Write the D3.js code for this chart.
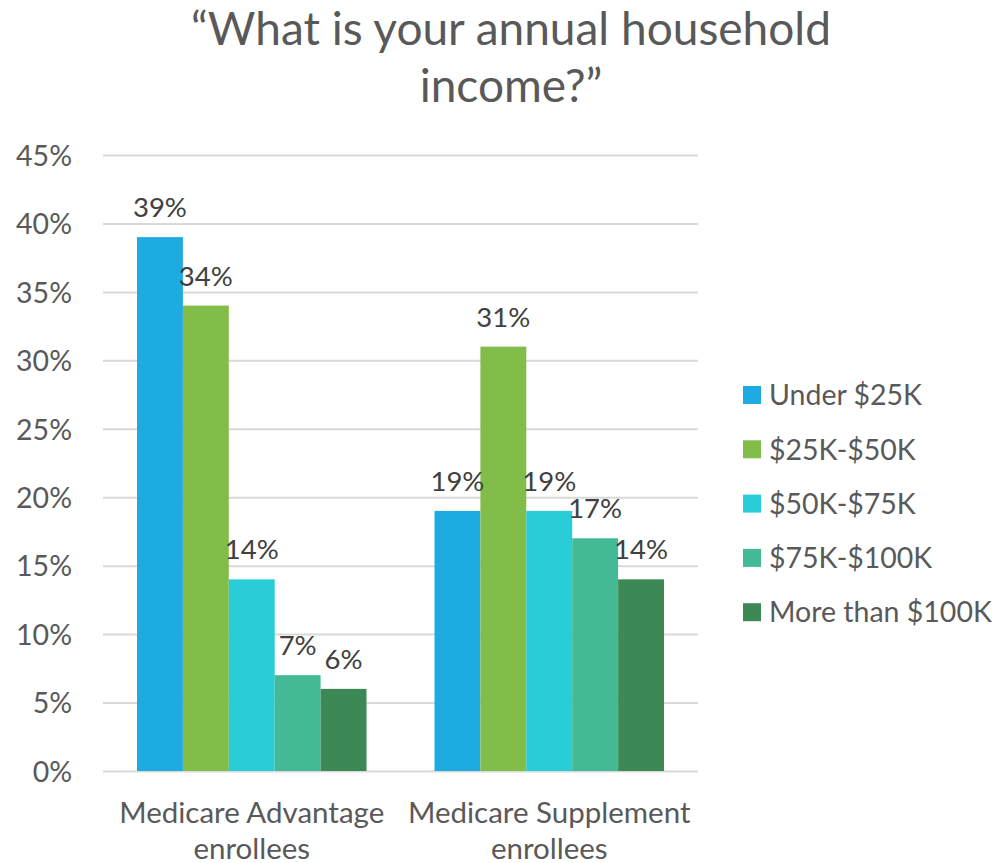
<!DOCTYPE html>
<html>
<head>
<meta charset="utf-8">
<script src="https://cdn.jsdelivr.net/npm/d3@7"></script>
<style>
  html, body { margin: 0; padding: 0; background: #fff; }
  svg { display: block; font-family: Lato, "Open Sans", sans-serif; }
</style>
</head>
<body>
<svg id="chart" width="999" height="863"></svg>
<script>
// Survey responses: share of enrollees by annual household income
const categories = [["Medicare Advantage", "enrollees"], ["Medicare Supplement", "enrollees"]];
const seriesNames = ["Under $25K", "$25K-$50K", "$50K-$75K", "$75K-$100K", "More than $100K"];
const advantageValues = [39, 34, 14, 7, 6];
const supplementValues = [19, 31, 19, 17, 14];
const yTicks = [0, 5, 10, 15, 20, 25, 30, 35, 40, 45];
const seriesColors = ["#1EABE1", "#82BD4A", "#28CDD8", "#44B996", "#3D8955"];
const titleLines = ["\u201CWhat is your annual household", "income?\u201D"];

const groupValues = [advantageValues, supplementValues];

const svg = d3.select("#chart");
const plot = { left: 103, right: 698, top: 155, bottom: 771 };

const y = d3.scaleLinear().domain([0, 45]).range([plot.bottom, plot.top]);
const x0 = d3.scaleBand().domain(d3.range(categories.length)).range([plot.left, plot.right]);
const groupGap = 34;
const x1 = d3.scaleBand().domain(d3.range(seriesNames.length))
  .range([groupGap, x0.bandwidth() - groupGap]);

// Title
svg.append("g").selectAll("text").data(titleLines).join("text")
  .attr("x", 511).attr("y", (d, i) => 45 + i * 57)
  .attr("text-anchor", "middle")
  .attr("fill", "#595959")
  .attr("font-size", 46)
  .text(d => d);

// Gridlines and y axis labels
const yAxis = d3.axisLeft(y).tickValues(yTicks).tickFormat(d => d + "%")
  .tickSize(-(plot.right - plot.left)).tickPadding(31);
const ya = svg.append("g").attr("transform", `translate(${plot.left},0)`).call(yAxis);
ya.select(".domain").remove();
ya.selectAll(".tick line").attr("stroke", "#d9d9d9").attr("stroke-width", 2);
ya.selectAll(".tick text").attr("fill", "#595959").attr("font-size", 28.5)
  .attr("font-family", "Lato, sans-serif").attr("dy", "0.36em");

// Bars
const groups = svg.append("g").selectAll("g").data(groupValues).join("g")
  .attr("transform", (d, i) => `translate(${x0(i)},0)`);

groups.selectAll("rect").data(d => d).join("rect")
  .attr("x", (d, i) => x1(i))
  .attr("y", d => y(d))
  .attr("width", x1.bandwidth())
  .attr("height", d => y(0) - y(d))
  .attr("fill", (d, i) => seriesColors[i]);

// Value labels
groups.selectAll("text").data(d => d).join("text")
  .attr("x", (d, i) => x1(i) + x1.bandwidth() / 2)
  .attr("y", d => y(d) - 20)
  .attr("text-anchor", "middle")
  .attr("fill", "#404040")
  .attr("font-size", 27.5)
  .text(d => d + "%");

// Category labels
const cat = svg.append("g").selectAll("text").data(categories).join("text")
  .attr("x", (d, i) => x0(i) + x0.bandwidth() / 2)
  .attr("y", 823)
  .attr("text-anchor", "middle")
  .attr("fill", "#595959")
  .attr("font-size", 29.5);
cat.selectAll("tspan").data(d => d).join("tspan")
  .attr("x", function () { return d3.select(this.parentNode).attr("x"); })
  .attr("dy", (d, i) => i === 0 ? 0 : 36)
  .text(d => d);

// Legend
const legend = svg.append("g").selectAll("g").data(seriesNames).join("g")
  .attr("transform", (d, i) => `translate(743,${395 + i * 54.3})`);
legend.append("rect").attr("x", 0).attr("y", -9).attr("width", 18).attr("height", 18)
  .attr("fill", (d, i) => seriesColors[i]);
legend.append("text").attr("x", 26).attr("y", 0).attr("dy", "0.36em")
  .attr("fill", "#595959").attr("font-size", 28.5)
  .text(d => d);
</script>
</body>
</html>
